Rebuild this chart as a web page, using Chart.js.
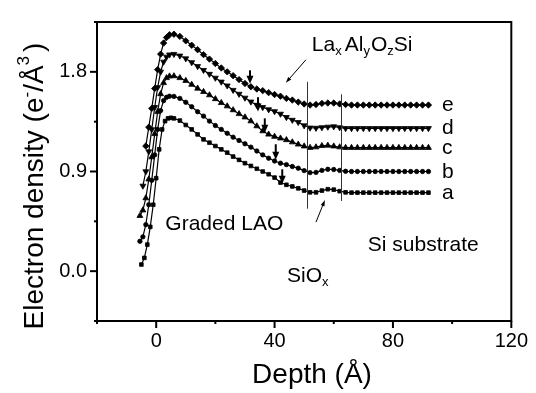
<!DOCTYPE html>
<html>
<head>
<meta charset="utf-8">
<script src="https://cdn.jsdelivr.net/npm/chart.js@4"></script>
<style>
html, body { margin: 0; padding: 0; background: #fff; }
</style>
</head>
<body>
<canvas id="grafica" width="536" height="393"></canvas>
<script>
Chart.defaults.font.family = "'Liberation Sans', Arial, sans-serif";
Chart.defaults.color = '#000';

// profundidad comun (A) para la parte principal de las curvas
const profundidad = [6, 8, 10, 12, 14, 16, 18, 20, 22, 24, 26, 28, 30, 32, 34, 36, 38, 40, 42, 44,
    46, 48, 50, 52, 54, 56, 58, 60, 62, 64, 66, 68, 70, 72, 74, 76, 78, 80, 82, 84, 86, 88, 90, 92];

// curva a (cuadrados)
const subidaA_x = [-5, -4, -3, -2, -1, 0, 1, 2, 3, 4, 5];
const subidaA_y = [0.06, 0.12, 0.24, 0.40, 0.60, 0.84, 1.10, 1.28, 1.355, 1.38, 1.385];
const densidadA = [1.38, 1.36, 1.32, 1.28, 1.235, 1.19, 1.16, 1.13, 1.10, 1.07, 1.035, 1.005, 0.975, 0.95, 0.925, 0.90, 0.875, 0.845, 0.80, 0.78,
    0.765, 0.748, 0.728, 0.712, 0.712, 0.728, 0.74, 0.736, 0.722, 0.712, 0.709, 0.709, 0.709, 0.709, 0.709, 0.709, 0.709, 0.709, 0.709, 0.709, 0.709, 0.709, 0.709, 0.709];

// curva b (circulos)
const subidaB_x = [-5.5, -4.5, -3.5, -2.5, -1.5, -0.5, 0.5, 1.5, 2.5, 3.5, 4.5];
const subidaB_y = [0.27, 0.31, 0.42, 0.60, 0.82, 1.05, 1.28, 1.45, 1.54, 1.57, 1.58];
const densidadB = [1.578, 1.56, 1.525, 1.485, 1.44, 1.40, 1.355, 1.315, 1.28, 1.245, 1.21, 1.18, 1.15, 1.12, 1.085, 1.05, 1.02, 0.995, 0.975, 0.962,
    0.945, 0.93, 0.908, 0.89, 0.892, 0.91, 0.92, 0.918, 0.91, 0.902, 0.90, 0.90, 0.90, 0.90, 0.90, 0.90, 0.90, 0.90, 0.90, 0.90, 0.90, 0.90, 0.90, 0.90];

// curva c (triangulos)
const subidaC_x = [-5.5, -4.5, -3.5, -2.5, -1.5, -0.5, 0.5, 1.5, 2.5, 3.5, 4.5];
const subidaC_y = [0.50, 0.55, 0.66, 0.83, 1.03, 1.24, 1.44, 1.60, 1.70, 1.745, 1.76];
const densidadC = [1.762, 1.745, 1.72, 1.685, 1.65, 1.62, 1.59, 1.555, 1.52, 1.49, 1.455, 1.42, 1.39, 1.355, 1.31, 1.265, 1.235, 1.215, 1.20, 1.185,
    1.165, 1.145, 1.128, 1.115, 1.12, 1.132, 1.135, 1.128, 1.12, 1.115, 1.115, 1.115, 1.115, 1.115, 1.115, 1.115, 1.115, 1.115, 1.115, 1.115, 1.115, 1.115, 1.115, 1.115];

// curva d (triangulos invertidos)
const subidaD_x = [-4.5, -3.5, -2.5, -1.5, -0.5, 0.5, 1.5, 2.5, 3.5, 4.5];
const subidaD_y = [0.77, 0.90, 1.08, 1.28, 1.48, 1.66, 1.80, 1.89, 1.935, 1.955];
const densidadD = [1.96, 1.945, 1.92, 1.885, 1.85, 1.815, 1.78, 1.745, 1.71, 1.675, 1.635, 1.60, 1.565, 1.53, 1.50, 1.48, 1.46, 1.443, 1.42, 1.39,
    1.365, 1.345, 1.315, 1.295, 1.293, 1.298, 1.303, 1.306, 1.298, 1.29, 1.29, 1.29, 1.29, 1.29, 1.29, 1.29, 1.29, 1.29, 1.29, 1.29, 1.29, 1.29, 1.29, 1.29];

// curva e (rombos)
const subidaE_x = [-3.5, -2.5, -1.5, -0.5, 0.5, 1.5, 2.5, 3.5, 4.5];
const subidaE_y = [1.13, 1.30, 1.47, 1.65, 1.82, 1.96, 2.06, 2.11, 2.135];
const densidadE = [2.14, 2.12, 2.08, 2.04, 2.00, 1.955, 1.915, 1.875, 1.835, 1.80, 1.765, 1.73, 1.695, 1.665, 1.645, 1.63, 1.612, 1.595, 1.58, 1.56,
    1.545, 1.527, 1.51, 1.50, 1.505, 1.515, 1.518, 1.518, 1.51, 1.505, 1.50, 1.50, 1.50, 1.50, 1.50, 1.50, 1.50, 1.50, 1.50, 1.50, 1.50, 1.50, 1.50, 1.50];

const etiquetasCurva = ['a', 'b', 'c', 'd', 'e'];
const nivelFinal = [0.709, 0.90, 1.115, 1.29, 1.50];

// flechas verticales en los codos: profundidad, inicio, punta
const flechaX = [42.6, 40.4, 36.7, 34.4, 31.7];
const flechaArriba = [0.92, 1.146, 1.38, 1.571, 1.814];
const flechaPunta = [0.79, 1.007, 1.25, 1.441, 1.692];

// lineas verticales de las interfaces
const interfazX = [51.0, 62.5];
const interfazArriba = [1.71, 1.597];
const interfazAbajo = [0.564, 0.634];

function armarSerie(subX, subY, cuerpo) {
    const puntos = subX.map((x, i) => ({ x: x, y: subY[i] }));
    profundidad.forEach((x, i) => puntos.push({ x: x, y: cuerpo[i] }));
    return puntos;
}

function serie(datos, estilo, giro, radio) {
    return {
        data: datos,
        borderColor: '#000',
        borderWidth: 1.2,
        backgroundColor: '#000',
        pointStyle: estilo,
        rotation: giro,
        pointRadius: radio,
        pointBorderWidth: 0.8,
        pointBorderColor: '#000',
        pointBackgroundColor: '#000',
        tension: 0
    };
}

function flecha(ctx, x1, y1, x2, y2, largo, ancho) {
    const ang = Math.atan2(y2 - y1, x2 - x1);
    ctx.beginPath();
    ctx.moveTo(x1, y1);
    ctx.lineTo(x2 - Math.cos(ang) * largo * 0.6, y2 - Math.sin(ang) * largo * 0.6);
    ctx.stroke();
    ctx.beginPath();
    ctx.moveTo(x2, y2);
    ctx.lineTo(x2 - Math.cos(ang) * largo - Math.sin(ang) * ancho / 2, y2 - Math.sin(ang) * largo + Math.cos(ang) * ancho / 2);
    ctx.lineTo(x2 - Math.cos(ang) * largo + Math.sin(ang) * ancho / 2, y2 - Math.sin(ang) * largo - Math.cos(ang) * ancho / 2);
    ctx.closePath();
    ctx.fill();
}

// escribe trozos de texto con sub/superindices
function textoPartes(ctx, partes, x, y) {
    let cx = x;
    partes.forEach(p => {
        ctx.font = p.size + "px 'Liberation Sans', Arial, sans-serif";
        ctx.fillText(p.t, cx, y + (p.dy || 0));
        cx += ctx.measureText(p.t).width + (p.gap || 0);
    });
}

const decoracion = {
    id: 'decoracion',
    afterDraw(chart) {
        const ctx = chart.ctx;
        const xs = chart.scales.x;
        const ys = chart.scales.y;
        const area = chart.chartArea;
        const px = v => xs.getPixelForValue(v);
        const py = v => ys.getPixelForValue(v);

        ctx.save();
        ctx.strokeStyle = '#000';
        ctx.fillStyle = '#000';

        // marco superior y derecho
        ctx.lineWidth = 2;
        ctx.beginPath();
        ctx.moveTo(area.left - 1, area.top);
        ctx.lineTo(area.right, area.top);
        ctx.lineTo(area.right, area.bottom + 1);
        ctx.stroke();

        // marcas de los ejes
        xs.ticks.forEach(t => {
            const largo = Math.abs(t.value % 40) < 1e-6 ? 7 : 3;
            const x = px(t.value);
            ctx.beginPath();
            ctx.moveTo(x, area.bottom);
            ctx.lineTo(x, area.bottom + largo);
            ctx.stroke();
        });
        ys.ticks.forEach(t => {
            const r = t.value / 0.9;
            const largo = Math.abs(r - Math.round(r)) < 1e-6 ? 7 : 3;
            const y = py(t.value);
            ctx.beginPath();
            ctx.moveTo(area.left, y);
            ctx.lineTo(area.left - largo, y);
            ctx.stroke();
        });

        // lineas de interfaz
        ctx.lineWidth = 1;
        ctx.strokeStyle = '#333';
        interfazX.forEach((x, i) => {
            ctx.beginPath();
            ctx.moveTo(Math.round(px(x)) + 0.5, py(interfazArriba[i]));
            ctx.lineTo(Math.round(px(x)) + 0.5, py(interfazAbajo[i]));
            ctx.stroke();
        });

        // flechas de los codos
        ctx.strokeStyle = '#000';
        ctx.lineWidth = 2;
        flechaX.forEach((x, i) => {
            flecha(ctx, px(x), py(flechaArriba[i]), px(x), py(flechaPunta[i]), 8, 7);
        });

        // flechas finas de las etiquetas
        ctx.lineWidth = 1;
        flecha(ctx, px(50.6), py(1.909), px(43.8), py(1.701), 6, 4);
        flecha(ctx, px(54.0), py(0.443), px(57.0), py(0.642), 6, 4);

        // textos
        ctx.textBaseline = 'alphabetic';
        ctx.textAlign = 'left';
        ctx.font = "21px 'Liberation Sans', Arial, sans-serif";
        etiquetasCurva.forEach((t, i) => {
            ctx.fillText(t, px(96.6), py(nivelFinal[i]) + 6);
        });
        ctx.fillText('Graded LAO', px(3.1), py(0.369));
        ctx.fillText('Si substrate', px(71.5), py(0.182));
        textoPartes(ctx, [
            { t: 'SiO', size: 21 },
            { t: 'x', size: 13, dy: 4 }
        ], px(44.2), py(-0.095));
        textoPartes(ctx, [
            { t: 'La', size: 21 },
            { t: 'x', size: 13, dy: 4, gap: 3 },
            { t: 'Al', size: 21 },
            { t: 'y', size: 13, dy: 4, gap: 1 },
            { t: 'O', size: 21 },
            { t: 'z', size: 13, dy: 4 },
            { t: 'Si', size: 21 }
        ], px(52.6), py(1.987));

        // titulos de los ejes
        ctx.font = "28px 'Liberation Sans', Arial, sans-serif";
        ctx.textAlign = 'center';
        ctx.fillText('Depth (Å)', 312, 383);

        ctx.translate(43, 186);
        ctx.rotate(-Math.PI / 2);
        ctx.textAlign = 'left';
        const trozos = [
            { t: 'Electron density (e', size: 28 },
            { t: '-', size: 17, dy: -11 },
            { t: '/Å', size: 28 },
            { t: '3', size: 17, dy: -14, gap: 4 },
            { t: ')', size: 28 }
        ];
        let total = 0;
        trozos.forEach(p => {
            ctx.font = p.size + "px 'Liberation Sans', Arial, sans-serif";
            total += ctx.measureText(p.t).width + (p.gap || 0);
        });
        textoPartes(ctx, trozos, -total / 2, 0);
        ctx.restore();
    }
};

const ctx = document.getElementById('grafica').getContext('2d');

new Chart(ctx, {
    type: 'line',
    data: {
        datasets: [
            serie(armarSerie(subidaA_x, subidaA_y, densidadA), 'rect', 0, 2.6),
            serie(armarSerie(subidaB_x, subidaB_y, densidadB), 'circle', 0, 2.2),
            serie(armarSerie(subidaC_x, subidaC_y, densidadC), 'triangle', 0, 3.4),
            serie(armarSerie(subidaD_x, subidaD_y, densidadD), 'triangle', 180, 3.4),
            serie(armarSerie(subidaE_x, subidaE_y, densidadE), 'rectRot', 0, 3.2)
        ]
    },
    options: {
        responsive: false,
        animation: false,
        devicePixelRatio: 1,
        layout: { padding: { top: 10, right: 23, left: 0, bottom: 0 } },
        plugins: { legend: { display: false }, tooltip: { enabled: false } },
        scales: {
            x: {
                type: 'linear',
                min: -20,
                max: 120,
                afterFit: s => { s.height = 72; },
                grid: { display: false, drawTicks: false },
                border: { display: true, color: '#000', width: 2 },
                ticks: {
                    stepSize: 20,
                    padding: 8,
                    font: { size: 20 },
                    color: '#000',
                    maxRotation: 0,
                    callback: v => (Math.abs(v % 40) < 1e-6 ? v : '')
                }
            },
            y: {
                type: 'linear',
                min: -0.45,
                max: 2.25,
                afterFit: s => { s.width = 97; },
                grid: { display: false, drawTicks: false },
                border: { display: true, color: '#000', width: 2 },
                ticks: {
                    stepSize: 0.45,
                    padding: 10,
                    font: { size: 20 },
                    color: '#000',
                    callback: v => {
                        const r = v / 0.9;
                        return Math.abs(r - Math.round(r)) < 1e-6 ? v.toFixed(1) : '';
                    }
                }
            }
        }
    },
    plugins: [decoracion]
});
</script>
</body>
</html>
